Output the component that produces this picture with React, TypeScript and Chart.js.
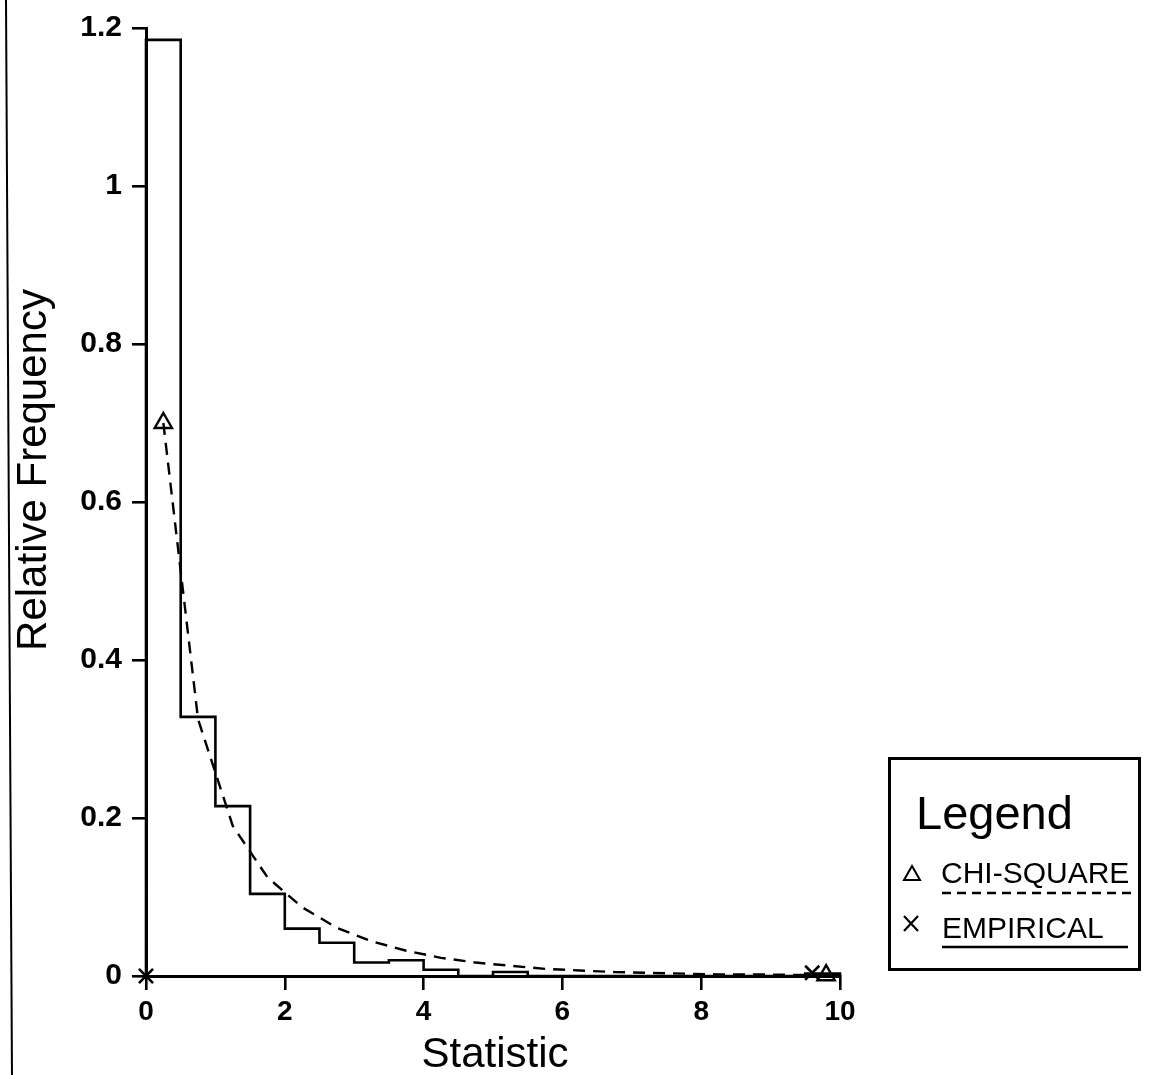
import React, { useEffect, useRef } from 'react';
import { Chart, registerables } from 'chart.js';

Chart.register(...registerables);

// ---- data ----
const binEdges = [0, 0.5, 1, 1.5, 2, 2.5, 3, 3.5, 4, 4.5, 5, 5.5, 6, 6.5, 7, 7.5, 8, 8.5, 9, 9.5, 10];
const empiricalFreq = [1.185, 0.328, 0.215, 0.104, 0.06, 0.042, 0.017, 0.02, 0.008, 0.0, 0.005, 0.0, 0.0, 0.0, 0.0, 0.0, 0.0, 0.0, 0.0, 0.003];
const chiX = [0.25, 0.75, 1.25, 1.75, 2.25, 2.75, 3.25, 3.75, 4.25, 4.75, 5.25, 5.75, 6.25, 6.75, 7.25, 7.75, 8.25, 8.75, 9.25, 9.8];
const chiDensity = [0.70, 0.325, 0.19, 0.125, 0.087, 0.061, 0.044, 0.032, 0.023, 0.017, 0.013, 0.009, 0.007, 0.005, 0.004, 0.003, 0.002, 0.002, 0.0015, 0.001];
const empiricalMarkX = [0, 9.6];
const empiricalMarkY = [0, 0.004];
const xTickValues = [0, 2, 4, 6, 8, 10];
const xTickLabels = ['0', '2', '4', '6', '8', '10'];
const yTickValues = [0, 0.2, 0.4, 0.6, 0.8, 1, 1.2];
const yTickLabels = ['0', '0.2', '0.4', '0.6', '0.8', '1', '1.2'];
const xTitle = 'Statistic';
const yTitle = 'Relative Frequency';
const legendTitle = 'Legend';
const seriesNames = ['CHI-SQUARE', 'EMPIRICAL'];

const FONT = '"Liberation Sans", Arial, sans-serif';

const decorPlugin = {
  id: 'decor',
  afterDraw(chart: any) {
    const ctx: CanvasRenderingContext2D = chart.ctx;
    const xs = chart.scales.x;
    ctx.save();
    ctx.strokeStyle = '#000';
    ctx.fillStyle = '#000';

    // scanned page edge line
    ctx.lineWidth = 2;
    ctx.beginPath();
    ctx.moveTo(6, 0);
    ctx.lineTo(12, 1075);
    ctx.stroke();

    // axis titles
    ctx.textAlign = 'center';
    ctx.textBaseline = 'alphabetic';
    ctx.font = `42px ${FONT}`;
    ctx.fillText(xTitle, (xs.left + xs.right) / 2 + 2, 1067);
    ctx.save();
    ctx.translate(46, 470);
    ctx.rotate(-Math.PI / 2);
    ctx.font = `42px ${FONT}`;
    ctx.fillText(yTitle, 0, 0);
    ctx.restore();

    // legend box
    ctx.lineWidth = 3;
    ctx.strokeRect(889.5, 758.5, 250, 211);
    ctx.textAlign = 'left';
    ctx.font = `47px ${FONT}`;
    ctx.fillText(legendTitle, 916, 829);

    // chi-square entry
    ctx.lineWidth = 2;
    ctx.beginPath();
    ctx.moveTo(912, 866);
    ctx.lineTo(920, 880);
    ctx.lineTo(904, 880);
    ctx.closePath();
    ctx.stroke();
    ctx.font = `30px ${FONT}`;
    ctx.fillText(seriesNames[0], 941, 883);
    ctx.lineWidth = 2.5;
    ctx.setLineDash([9, 6]);
    ctx.beginPath();
    ctx.moveTo(942, 893);
    ctx.lineTo(1131, 893);
    ctx.stroke();
    ctx.setLineDash([]);

    // empirical entry
    ctx.lineWidth = 2.2;
    ctx.beginPath();
    ctx.moveTo(904, 916);
    ctx.lineTo(918, 931);
    ctx.moveTo(918, 916);
    ctx.lineTo(904, 931);
    ctx.stroke();
    ctx.fillText(seriesNames[1], 942, 938);
    ctx.lineWidth = 2.5;
    ctx.beginPath();
    ctx.moveTo(942, 947);
    ctx.lineTo(1128, 947);
    ctx.stroke();

    ctx.restore();
  },
};

export default function App() {
  const canvasRef = useRef<HTMLCanvasElement | null>(null);

  useEffect(() => {
    document.body.style.margin = '0';
    document.body.style.overflow = 'hidden';
    const canvas = canvasRef.current;
    if (!canvas) return;

    const histData = [{ x: binEdges[0], y: 0 }]
      .concat(empiricalFreq.map((f, i) => ({ x: binEdges[i], y: f })))
      .concat([
        { x: binEdges[binEdges.length - 1], y: empiricalFreq[empiricalFreq.length - 1] },
        { x: binEdges[binEdges.length - 1], y: 0 },
      ]);
    const chiData = chiX.map((x, i) => ({ x, y: chiDensity[i] }));
    const markData = empiricalMarkX.map((x, i) => ({ x, y: empiricalMarkY[i] }));
    const lastChi = chiData.length - 1;

    const chart = new Chart(canvas, {
      type: 'scatter',
      data: {
        datasets: [
          {
            type: 'line',
            label: seriesNames[1],
            data: histData,
            stepped: true,
            borderColor: '#000',
            borderWidth: 2.6,
            pointRadius: 0,
            fill: false,
            clip: false,
          } as any,
          {
            type: 'scatter',
            label: seriesNames[1] + ' markers',
            data: markData,
            pointStyle: 'crossRot',
            pointRadius: 10,
            pointBorderWidth: 2.6,
            pointBorderColor: '#000',
            clip: false,
          } as any,
          {
            type: 'line',
            label: seriesNames[0],
            data: chiData,
            borderColor: '#000',
            borderWidth: 2.4,
            borderDash: [12, 8],
            tension: 0,
            fill: false,
            pointStyle: 'triangle',
            pointRadius: (c: any) => (c.dataIndex === 0 || c.dataIndex === lastChi ? 10 : 0),
            pointBorderWidth: 2.4,
            pointBorderColor: '#000',
            pointBackgroundColor: 'rgba(0,0,0,0)',
            clip: false,
          } as any,
        ],
      },
      options: {
        animation: false,
        responsive: false,
        events: [],
        layout: { padding: { left: 0, top: 23, right: 312, bottom: 0 } },
        plugins: {
          legend: { display: false },
          tooltip: { enabled: false },
          title: { display: false },
        },
        scales: {
          x: {
            type: 'linear',
            min: 0,
            max: 10,
            afterFit: (s: any) => {
              s.height = 99;
            },
            afterBuildTicks: (s: any) => {
              s.ticks = xTickValues.map((v) => ({ value: v }));
            },
            ticks: {
              color: '#000',
              font: { family: FONT, size: 28, weight: 'bold' },
              padding: 5,
              maxRotation: 0,
              autoSkip: false,
              callback: (_v: any, i: number) => xTickLabels[i],
            },
            grid: {
              display: true,
              drawOnChartArea: false,
              drawTicks: true,
              tickLength: 14,
              color: '#000',
              lineWidth: 2.6,
            },
            border: { display: true, color: '#000', width: 3 },
          },
          y: {
            type: 'linear',
            min: 0,
            max: 1.2,
            afterFit: (s: any) => {
              s.width = 146;
            },
            afterBuildTicks: (s: any) => {
              s.ticks = yTickValues.map((v) => ({ value: v }));
            },
            ticks: {
              color: '#000',
              font: { family: FONT, size: 30, weight: 'bold' },
              padding: 10,
              autoSkip: false,
              callback: (_v: any, i: number) => yTickLabels[i],
            },
            grid: {
              display: true,
              drawOnChartArea: false,
              drawTicks: true,
              tickLength: 14,
              color: '#000',
              lineWidth: 2.6,
            },
            border: { display: true, color: '#000', width: 3 },
          },
        },
      } as any,
      plugins: [decorPlugin],
    });

    return () => {
      chart.destroy();
    };
  }, []);

  return (
    <div style={{ width: 1152, height: 1075, background: '#fff', overflow: 'hidden' }}>
      <canvas ref={canvasRef} width={1152} height={1075} style={{ display: 'block' }} />
    </div>
  );
}
